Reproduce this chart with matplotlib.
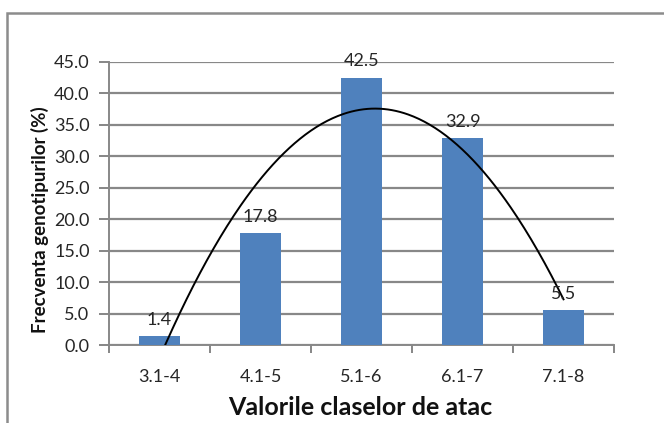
import matplotlib
matplotlib.use("Agg")
import matplotlib.pyplot as plt
from matplotlib.patches import Rectangle
import numpy as np

categories = ["3.1-4", "4.1-5", "5.1-6", "6.1-7", "7.1-8"]
values = [1.4, 17.8, 42.5, 32.9, 5.5]
yticks = [0, 5, 10, 15, 20, 25, 30, 35, 40, 45]

plt.rcParams['font.family'] = ['Lato', 'DejaVu Sans']

fig = plt.figure(figsize=(6.64, 4.23), dpi=100)
W, H = 664, 423
ax = fig.add_axes([109 / W, (H - 345) / H, 505 / W, 283 / H])

x = np.arange(1, len(values) + 1)
ax.bar(x, values, width=0.4, color="#4F81BD", zorder=3)
for xi, v in zip(x, values):
    ax.annotate(f"{v:.1f}", (xi, v), xytext=(0, 6), textcoords="offset points",
                ha="center", va="bottom", fontsize=13, color="#262626", zorder=5)

# polynomial (order 2) trendline of the data
coef = np.polyfit(x, values, 2)
xs = np.linspace(1, 5, 300)
ax.plot(xs, np.polyval(coef, xs), color="black", lw=1.4, zorder=4)

ax.set_xlim(0.5, 5.5)
ax.set_ylim(0, 45)
ax.set_yticks(yticks)
ax.set_yticklabels([f"{t:.1f}" for t in yticks])
ax.set_xticks(x)
ax.set_xticklabels(categories)
ax.set_xticks(np.arange(0.5, 5.6, 1), minor=True)
ax.tick_params(axis="x", which="major", length=0, pad=17, labelsize=13, labelcolor="#262626")
ax.tick_params(axis="x", which="minor", length=6, width=1.4, color="#868686")
ax.tick_params(axis="y", length=7, width=1.4, color="#868686", labelsize=13,
               labelcolor="#262626", pad=7)
ax.yaxis.grid(True, color="#888888", lw=1.6, zorder=0)
ax.set_axisbelow(True)
for s in ["top", "right"]:
    ax.spines[s].set_visible(False)
for s in ["left", "bottom"]:
    ax.spines[s].set_color("#888888")
    ax.spines[s].set_linewidth(1.4)

fig.text(40 / W, 1 - 220 / H, "Frecventa genotipurilor (%)", rotation=90,
         ha="center", va="center", fontsize=13.5, fontweight="bold", color="#111111")
fig.text(360 / W, 1 - 407 / H, "Valorile claselor de atac", ha="center", va="center",
         fontsize=18, fontweight="bold", color="#111111")

fig.patches.append(Rectangle((6.5 / W, -0.1), 1.2, (H - 13) / H + 0.1,
                             transform=fig.transFigure, fill=False,
                             edgecolor="#8c8c8c", lw=1.8))

fig.savefig("out.png", dpi=100)
